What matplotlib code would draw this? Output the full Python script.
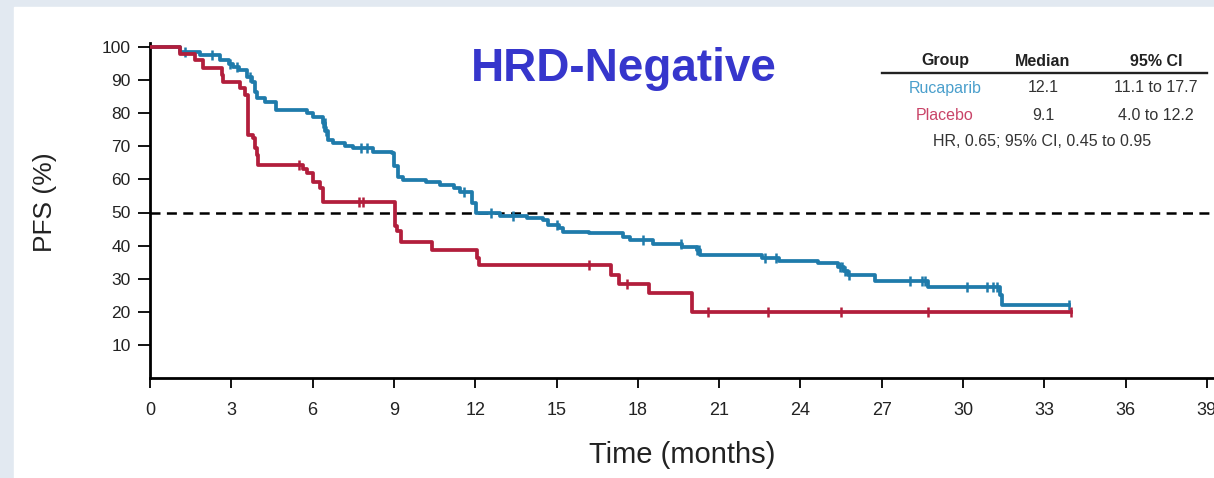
import numpy as np
import matplotlib
matplotlib.use("Agg")
import matplotlib.pyplot as plt
from matplotlib import font_manager
from matplotlib.patches import Rectangle

# Kaplan-Meier steps (time in months, PFS in %)
ruca_t = [0, 1.1, 1.85, 2.6, 2.9, 3.05, 3.3, 3.58, 3.76, 3.87, 3.95, 4.24, 4.65,
          5.8, 6.0, 6.38, 6.46, 6.57, 6.75, 7.2, 7.5, 8.23, 8.93, 9.0, 9.15, 9.34,
          10.2, 10.7, 11.2, 11.44, 11.9, 12.03, 12.9, 13.9, 14.5, 14.7, 15.1, 15.25,
          16.2, 17.45, 17.7, 18.56, 19.63, 20.18, 20.3, 22.6, 23.2, 24.65, 25.4,
          25.6, 25.75, 26.75, 28.7, 31.35, 31.45, 33.9]
ruca_s = [100, 98.5, 97.5, 96, 95, 94, 93, 91, 89.5, 86.5, 84.5, 83.5, 81,
          80, 79, 77, 74.5, 72, 71, 70, 69.4, 68.4, 67.9, 64, 60.8, 59.8,
          59.3, 58.3, 57.3, 56.3, 53, 49.8, 49, 48.4, 47.7, 46.2, 45.2, 44.2,
          43.7, 42.7, 41.7, 40.5, 39.7, 38.6, 37.2, 36.4, 35.4, 34.6, 33.6,
          32.4, 31.1, 29.4, 27.6, 25, 22, 22]
ruca_cens = [1.3, 2.3, 2.95, 3.2, 3.7, 6.4, 6.45, 6.5, 7.8, 8.0, 11.6, 12.6, 13.4,
             15.0, 18.2, 19.6, 20.2, 20.25, 22.7, 23.1, 25.45, 25.55, 25.65, 25.8,
             28.05, 28.5, 28.6, 30.15, 30.9, 31.1, 31.25, 33.9]

plac_t = [0, 1.1, 1.66, 1.97, 2.64, 2.7, 3.32, 3.5, 3.63, 3.81, 3.87, 3.94, 4.0,
          5.66, 5.78, 6.03, 6.27, 6.4, 9.04, 9.1, 9.25, 10.4, 12.05, 12.15,
          17.0, 17.3, 18.4, 20.0, 34.0]
plac_s = [100, 97.8, 96, 93.6, 91.5, 89.5, 87.5, 85.5, 73.4, 72.4, 69.4, 67.4, 64.4,
          63, 61.8, 59.3, 57.3, 53.3, 46, 44.5, 41, 38.7, 36.2, 34,
          31, 28.5, 25.7, 19.8, 19.8]
plac_cens = [5.5, 7.7, 7.85, 16.2, 17.6, 20.6, 22.8, 25.5, 28.7, 34.0]

x_ticks = list(range(0, 40, 3))
y_ticks = list(range(10, 101, 10))

table_head = ["Group", "Median", "95% CI"]
table_rows = [["Rucaparib", "12.1", "11.1 to 17.7"],
              ["Placebo", "9.1", "4.0 to 12.2"]]
hr_text = "HR, 0.65; 95% CI, 0.45 to 0.95"

BLUE = "#1f7bab"
RED = "#b21e3c"

names = {f.name for f in font_manager.fontManager.ttflist}
narrow_ok = "Liberation Sans Narrow" in names
narrow = dict(family="Liberation Sans Narrow") if narrow_ok else dict(family="Liberation Sans")
plt.rcParams["font.family"] = ["Liberation Sans", "DejaVu Sans"]
plt.rcParams["lines.scale_dashes"] = False


def step_at(t, s, c):
    idx = np.searchsorted(t, c, side="right") - 1
    return np.asarray(s)[idx]


W, H = 1214, 478
fig = plt.figure(figsize=(W / 100, H / 100), dpi=100, facecolor="#e2e9f1")
fig.patches.append(Rectangle((14 / W, 0), 1 - 14 / W, 1 - 7 / H,
                             transform=fig.transFigure, color="white", zorder=-10))

ax = fig.add_axes([150 / W, (H - 378) / H, (W - 150) / W, 335 / H])
ax.set_facecolor("none")
ax.set_xlim(0, (W - 150) / 27.1)
ax.set_ylim(0, 335 / 3.31)

ax.axhline(50, color="black", lw=1.8, dashes=(7.2, 4.6), zorder=1)

ax.step(ruca_t, ruca_s, where="post", color=BLUE, lw=2.7, zorder=2)
ax.plot(ruca_cens, step_at(ruca_t, ruca_s, ruca_cens), ls="none", marker="|",
        ms=7, mew=1.8, color=BLUE, zorder=2)
ax.step(plac_t, plac_s, where="post", color=RED, lw=2.7, zorder=3)
ax.plot(plac_cens, step_at(plac_t, plac_s, plac_cens), ls="none", marker="|",
        ms=7, mew=1.8, color=RED, zorder=3)

for side in ["top", "right"]:
    ax.spines[side].set_visible(False)
for side in ["left", "bottom"]:
    ax.spines[side].set_linewidth(2.0)
ax.set_xticks(x_ticks)
ax.set_yticks(y_ticks)
ax.tick_params(axis="x", direction="out", length=7, width=1.3, pad=10)
ax.tick_params(axis="y", direction="out", length=9, width=1.3, pad=5, labelsize=12.5,
               labelcolor="#222222")
xsize = 14 if narrow_ok else 13
for lab in ax.get_xticklabels():
    lab.set_fontproperties(font_manager.FontProperties(size=xsize, **narrow))
    lab.set_color("#222222")

fig.text(45 / W, 1 - 202 / H, "PFS (%)", rotation=90, ha="center", va="center",
         fontsize=19, color="#222222")
fig.text(682 / W, 1 - 455 / H, "Time (months)", ha="center", va="center",
         fontsize=24 if narrow_ok else 21, color="#222222", **narrow)

fig.text(624 / W, 1 - 69 / H, "HRD-Negative", ha="center", va="center",
         fontsize=33, fontweight="bold", color="#3636cc")

col_x = [945, 1043, 1156]
for x, h in zip(col_x, table_head):
    fig.text(x / W, 1 - 61 / H, h, ha="center", va="center", fontsize=11.5,
             fontweight="bold", color="#222222")
fig.add_artist(plt.Line2D([882 / W, 1207 / W], [1 - 73 / H, 1 - 73 / H],
                          color="#222222", lw=1.7, transform=fig.transFigure))
row_y = [88, 116]
for y, row, c in zip(row_y, table_rows, ["#4a9fcc", "#c94468"]):
    for i, (x, v) in enumerate(zip(col_x, row)):
        fig.text(x / W, 1 - y / H, v, ha="center", va="center", fontsize=11.5,
                 color=c if i == 0 else "#333333")
fig.text(1042 / W, 1 - 142 / H, hr_text, ha="center", va="center",
         fontsize=11.5, color="#333333")

fig.savefig("out.png", dpi=100, facecolor=fig.get_facecolor())
